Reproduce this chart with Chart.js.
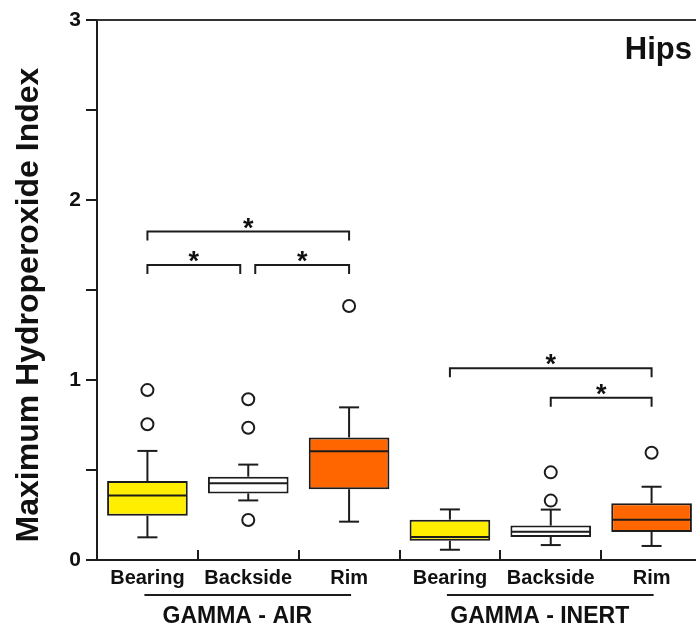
<!DOCTYPE html>
<html>
<head>
<meta charset="utf-8">
<style>
  html, body { margin: 0; padding: 0; background: #fff; overflow: hidden; width: 696px; height: 626px; }
  canvas { display: block; }
</style>
<script src="https://cdn.jsdelivr.net/npm/chart.js@4.4.1/dist/chart.umd.min.js"></script>
</head>
<body>
<canvas id="chart" width="710" height="626"></canvas>
<script>
// ---- data ----
const categories   = ['Bearing', 'Backside', 'Rim', 'Bearing', 'Backside', 'Rim'];
const groupNames   = ['GAMMA - AIR', 'GAMMA - INERT'];
const groupMembers = [[0, 1, 2], [3, 4, 5]];

const q1          = [0.246, 0.370, 0.393, 0.107, 0.128, 0.156];
const median      = [0.359, 0.426, 0.604, 0.128, 0.157, 0.224];
const q3          = [0.439, 0.463, 0.681, 0.224, 0.191, 0.315];
const whiskerLow  = [0.126, 0.331, 0.213, 0.057, 0.083, 0.078];
const whiskerHigh = [0.606, 0.530, 0.848, 0.281, 0.280, 0.407];
const outliers    = [[0.944, 0.754], [0.893, 0.735, 0.222], [1.411], [], [0.487, 0.330], [0.596]];

// significance brackets: [from category, to category, height]
const brackets = [[0, 2, 1.825], [0, 1, 1.639], [1, 2, 1.639], [3, 5, 1.065], [4, 5, 0.902]];

const yMin = 0, yMax = 3, yStep = 0.5;
const yTickLabels = [0, 1, 2, 3];
const yTitle = 'Maximum Hydroperoxide Index';
const panelTitle = 'Hips';

// ---- styling ----
const FONT = '"Liberation Sans", Arial, Helvetica, sans-serif';
const INK = '#1c1c1c';
const surfaceColors = { Bearing: '#FFEE00', Backside: '#FFFFFF', Rim: '#FF6600' };

// one point series per outlier rank, so each category can hold several
const maxOutliers = Math.max(...outliers.map(l => l.length));
const outlierSets = [];
for (let r = 0; r < maxOutliers; r++) {
  outlierSets.push({
    type: 'line',
    label: 'Outliers ' + (r + 1),
    data: outliers.map(l => (r < l.length ? l[r] : null)),
    showLine: false,
    spanGaps: false,
    pointRadius: 6,
    pointBorderWidth: 2,
    pointBackgroundColor: '#fff',
    pointBorderColor: INK,
    order: 1
  });
}

function line(ctx, x1, y1, x2, y2) {
  ctx.beginPath(); ctx.moveTo(x1, y1); ctx.lineTo(x2, y2); ctx.stroke();
}

// whiskers, caps and medians on top of the box bars
const boxDecor = {
  id: 'boxDecor',
  afterDatasetDraw(chart, args) {
    if (args.index !== 0) return;
    const ctx = chart.ctx, y = chart.scales.y;
    const meta = chart.getDatasetMeta(0);
    ctx.save();
    ctx.strokeStyle = INK; ctx.lineWidth = 2; ctx.lineCap = 'butt';
    meta.data.forEach((el, i) => {
      const cx = el.x, half = el.width / 2, cap = 10;
      const yq1 = y.getPixelForValue(q1[i]), yq3 = y.getPixelForValue(q3[i]);
      const yLo = y.getPixelForValue(whiskerLow[i]), yHi = y.getPixelForValue(whiskerHigh[i]);
      line(ctx, cx, yq3, cx, yHi);
      line(ctx, cx - cap, yHi, cx + cap, yHi);
      line(ctx, cx, yq1, cx, yLo);
      line(ctx, cx - cap, yLo, cx + cap, yLo);
      const ym = y.getPixelForValue(median[i]);
      line(ctx, cx - half + 1, ym, cx + half - 1, ym);
    });
    ctx.restore();
  }
};

// frame, titles, group labels and significance brackets
const annotations = {
  id: 'annotations',
  afterDraw(chart) {
    const ctx = chart.ctx, x = chart.scales.x, y = chart.scales.y, area = chart.chartArea;
    ctx.save();
    ctx.strokeStyle = '#333'; ctx.lineWidth = 2;
    line(ctx, area.left, area.top, area.right, area.top);

    // y-axis title
    ctx.save();
    ctx.translate(38, (area.top + area.bottom) / 2 + 15);
    ctx.rotate(-Math.PI / 2);
    ctx.fillStyle = '#111';
    ctx.font = 'bold 32px ' + FONT;
    ctx.textAlign = 'center'; ctx.textBaseline = 'alphabetic';
    ctx.fillText(yTitle, 0, 0);
    ctx.restore();

    // panel title
    ctx.fillStyle = '#111';
    ctx.font = 'bold 31px ' + FONT;
    ctx.textAlign = 'right'; ctx.textBaseline = 'alphabetic';
    ctx.fillText(panelTitle, 692, 59);

    // group labels under the category labels
    ctx.strokeStyle = INK; ctx.lineWidth = 2;
    ctx.font = 'bold 23px ' + FONT;
    ctx.textAlign = 'center';
    groupMembers.forEach((members, g) => {
      const first = x.getPixelForValue(members[0]);
      const last = x.getPixelForValue(members[members.length - 1]);
      const mid = x.getPixelForValue(members[Math.floor(members.length / 2)]);
      line(ctx, first - 3, area.bottom + 35, last + 2, area.bottom + 35);
      ctx.fillText(groupNames[g], mid - 11, area.bottom + 63);
    });

    // significance brackets
    ctx.font = 'bold 27px ' + FONT;
    brackets.forEach(([a, b, v], k) => {
      const shared = (end) => brackets.some(([a2, b2, v2], j) => j !== k && v2 === v && (a2 === end || b2 === end));
      let xa = x.getPixelForValue(a), xb = x.getPixelForValue(b);
      if (shared(a)) xa += 7;
      if (shared(b)) xb -= 8;
      const yy = y.getPixelForValue(v);
      ctx.beginPath();
      ctx.moveTo(xa, yy + 9); ctx.lineTo(xa, yy); ctx.lineTo(xb, yy); ctx.lineTo(xb, yy + 9);
      ctx.stroke();
      ctx.fillText('*', (xa + xb) / 2, yy + 5);
    });
    ctx.restore();
  }
};

new Chart(document.getElementById('chart'), {
  type: 'bar',
  data: {
    labels: categories,
    datasets: [
      {
        label: 'IQR',
        data: categories.map((_, i) => [q1[i], q3[i]]),
        backgroundColor: categories.map(c => surfaceColors[c]),
        borderColor: INK,
        borderWidth: 2,
        borderSkipped: false,
        barPercentage: 0.8,
        categoryPercentage: 1.0,
        order: 2
      },
      ...outlierSets
    ]
  },
  options: {
    responsive: false,
    animation: false,
    devicePixelRatio: 1,
    layout: { padding: { top: 20, right: 5, left: 0, bottom: 0 } },
    plugins: { legend: { display: false }, tooltip: { enabled: false } },
    scales: {
      x: {
        type: 'category',
        offset: true,
        grid: { offset: true, drawOnChartArea: false, drawTicks: true, tickLength: -10, color: INK, lineWidth: 2 },
        border: { display: true, color: INK, width: 2 },
        ticks: { font: { family: FONT, size: 20, weight: 'bold' }, color: '#111', padding: 16, maxRotation: 0, autoSkip: false },
        afterFit: s => { s.height = 66; }
      },
      y: {
        min: yMin, max: yMax,
        grid: { drawOnChartArea: false, drawTicks: true, tickLength: 11, color: INK, lineWidth: 2 },
        border: { display: true, color: INK, width: 2 },
        ticks: {
          stepSize: yStep,
          font: { family: FONT, size: 21, weight: 'bold' }, color: '#111', padding: 5,
          callback: v => (yTickLabels.includes(v) ? String(v) : '')
        },
        afterFit: s => { s.width = 97; }
      }
    }
  },
  plugins: [boxDecor, annotations]
});
</script>
</body>
</html>
